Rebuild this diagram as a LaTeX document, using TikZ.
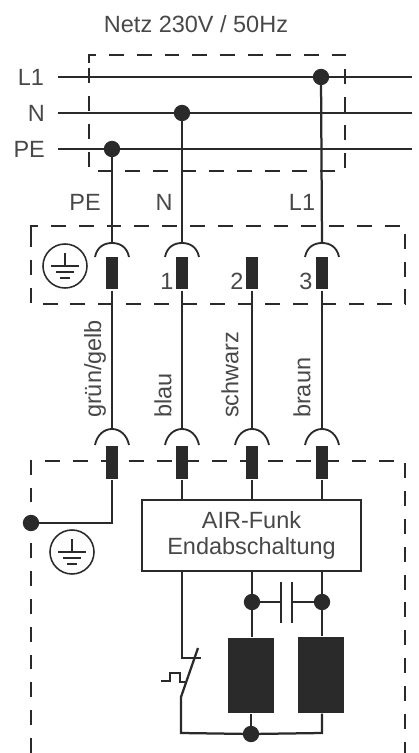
\documentclass[tikz,border=0pt]{standalone}
\usepackage{fontspec}
\setmainfont{Liberation Sans}
\usetikzlibrary{calc}
\definecolor{ink}{HTML}{2A2A2A}
\definecolor{txt}{HTML}{484848}
\begin{document}
\begin{tikzpicture}[x=0.025cm,y=-0.025cm,line width=1.6pt,color=ink]
                      \tikzstyle{point}=[circle,draw=ink,fill=ink,inner sep=0pt,minimum width=10pt,minimum height=10pt]
                      \tikzstyle{contact}=[rectangle,draw=none,fill=ink,inner sep=0pt,minimum width=0.3cm,minimum height=0.82cm]
                      \tikzstyle{coil}=[rectangle,draw=none,fill=ink,inner sep=0pt,minimum width=1.15cm,minimum height=1.88cm]
                      \tikzstyle{lab}=[text=txt,font=\fontsize{16.7}{19}\selectfont,inner sep=0pt]
                      \tikzstyle{box}=[dash pattern=on 10.6pt off 9.2pt,line width=1.5pt]
                      \tikzstyle{earth}=[circle,draw=ink,line width=1.1pt,fill=white,inner sep=0pt,minimum width=1.1cm]
                      \tikzstyle{socket}=[line width=1.3pt]
                      \useasboundingbox (0,0) rectangle (419,753);
                      % mains
                      \node[lab] (t) at (196,24) {Netz 230V / 50Hz};
                      \draw[box] (89,63) -- (89,55) -- (345,55) -- (345,171) -- (89,171) -- cycle;
                      \node[lab,anchor=east] (ll) at (45,77) {L1};
                      \node[lab,anchor=east] (ln) at (46,113) {N};
                      \node[lab,anchor=east] (lp) at (46,149) {PE};
                      \node (lle) at (412,77) {};
                      \node (lne) at (412,113) {};
                      \node (lpe) at (412,149) {};
                      \node[point] (jp) at (112,149) {};
                      \node[point] (jn) at (182,113) {};
                      \node[point] (jl) at (321,77) {};
                      \draw (58,77) -- (lle.center);
                      \draw (58,113) -- (lne.center);
                      \draw (58,149) -- (lpe.center);
                      % upper plug
                      \draw[box] (31,234) -- (31,226) -- (405,226) -- (405,304) -- (31,304) -- cycle;
                      \node[earth] (ea) at (65,266) {};
                      \node[lab] (lpe2) at (85,202) {PE};
                      \node[lab] (ln2) at (164,202) {N};
                      \node[lab] (ll2) at (302,202) {L1};
                      \foreach \n/\x in {a/112,b/182,c/252,d/322}{
                        \node[contact] (u\n) at (\x,273) {};
                        \node[contact] (v\n) at (\x,462.5) {};
                        \node (w\n) at (\x,429) {};
                        \draw[socket] (\x-17,445) .. controls (\x-15,435) and (\x-8,429) .. (\x,429) .. controls (\x+8,429) and (\x+15,435) .. (\x+17,445);
                        \draw (u\n.south) -- (w\n.center);
                      }
                      \node (sa) at (112,243) {};
                      \node (sb) at (182,243) {};
                      \node (sd) at (322,243) {};
                      \foreach \x in {112,182,322}{
                        \draw[socket] (\x-17,257) .. controls (\x-15,247) and (\x-8,243) .. (\x,243) .. controls (\x+8,243) and (\x+15,247) .. (\x+17,257);
                      }
                      \draw (jp.center) -- (sa.center);
                      \draw (jn.center) -- (sb.center);
                      \draw (jl.center) -- (sd.center);
                      \node[lab] (n1) at (167,281) {1};
                      \node[lab] (n2) at (237,281) {2};
                      \node[lab] (n3) at (306,281) {3};
                      \node[lab,rotate=90,anchor=west] (ca) at (95,419) {grün/gelb};
                      \node[lab,rotate=90,anchor=west] (cb) at (163,419) {blau};
                      \node[lab,rotate=90,anchor=west] (cc) at (230,419) {schwarz};
                      \node[lab,rotate=90,anchor=west] (cd) at (302,419) {braun};
                      % device
                      \draw[box] (31,753) -- (31,461) -- (405,461) -- (405,753);
                      \node[point] (jg) at (31,523) {};
                      \node (kg) at (112,523) {};
                      \draw (va.south) -- (kg.center) -- (jg.center);
                      \node[earth] (eb) at (72,552) {};
                      \node[draw=ink,fill=white,lab,minimum width=5.475cm,minimum height=1.775cm,align=center,line width=1.2pt] (f) at (251.5,535.5) {AIR-Funk\\Endabschaltung};
                      \draw (vb.south) -- (vb.south |- f.north);
                      \draw (vc.south) -- (vc.south |- f.north);
                      \draw (vd.south) -- (vd.south |- f.north);
                      \node[coil] (ka) at (251,675.5) {};
                      \node[coil] (kb) at (321,675) {};
                      \node[point] (jc) at (252,602) {};
                      \node[point] (jd) at (322,602) {};
                      \node[point] (je) at (251,734) {};
                      \node (pa) at (281,602) {};
                      \node (pb) at (292,602) {};
                      \draw (vc.south |- f.south) -- (jc.center) -- (jc.center |- ka.north);
                      \draw (vd.south |- f.south) -- (jd.center) -- (jd.center |- kb.north);
                      \draw (jc.center) -- (pa.center);
                      \draw (jd.center) -- (pb.center);
                      \draw ($(pa.center)+(0,-20)$) -- ($(pa.center)+(0,21)$);
                      \draw ($(pb.center)+(0,-20)$) -- ($(pb.center)+(0,21)$);
                      % switch
                      \node (sw) at (182,658) {};
                      \node (sx) at (181,697) {};
                      \node (sy) at (181,733) {};
                      \node (sz) at (322,733) {};
                      \draw (vb.south |- f.south) -- (sw.center) -- (201,658);
                      \draw (198,648) -- (sx.center) -- (sy.center) -- (je.center) -- (sz.center) -- (sz.center |- kb.south);
                      \draw (je.center) -- (je.center |- ka.south);
                      \draw[line width=1pt] (161,681) -- (170,681) -- (170,673) -- (180,673) -- (180,682) -- (186,682);
                      % earth marks
                      \foreach \c in {ea,eb}{
                        \draw[line width=1.1pt] ($(\c)+(0,-13)$) -- ($(\c)+(0,0)$);
                        \draw[line width=1.1pt] ($(\c)+(-14,0)$) -- ($(\c)+(14,0)$);
                        \draw[line width=1.1pt] ($(\c)+(-9,6)$) -- ($(\c)+(9,6)$);
                        \draw[line width=1.1pt] ($(\c)+(-5,12)$) -- ($(\c)+(5,12)$);
                      }
                  \end{tikzpicture}
\end{document}
